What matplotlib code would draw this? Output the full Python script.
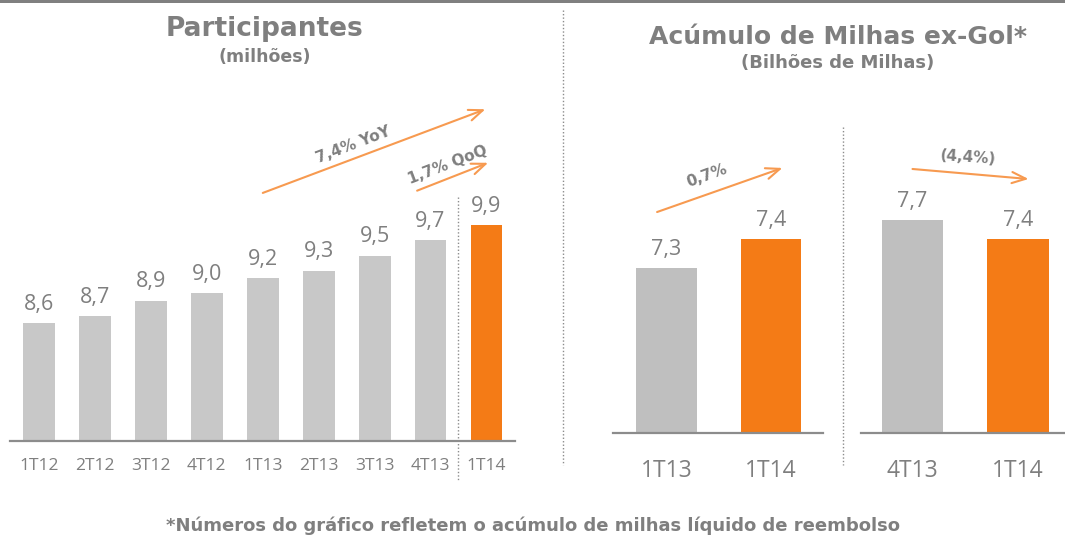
import matplotlib
matplotlib.use("Agg")
import matplotlib.pyplot as plt
from matplotlib.lines import Line2D
from matplotlib.patches import Rectangle

# data
part_labels = ["1T12", "2T12", "3T12", "4T12", "1T13", "2T13", "3T13", "4T13", "1T14"]
part_values = [8.6, 8.7, 8.9, 9.0, 9.2, 9.3, 9.5, 9.7, 9.9]

yoy_labels = ["1T13", "1T14"]
yoy_values = [7.3, 7.4]

qoq_labels = ["4T13", "1T14"]
qoq_values = [7.7, 7.4]

GRAY_TXT = "#7f7f7f"
ORANGE = "#f47b16"
ARROW = "#f79a50"
NUM_FONT = "Open Sans"

W, H = 1065, 537
fig = plt.figure(figsize=(W / 100, H / 100), dpi=100)


def px_axes(left, top, right, bottom):
    return fig.add_axes([left / W, 1 - bottom / H, (right - left) / W, (bottom - top) / H])


def fmt(v):
    return f"{v:.1f}".replace(".", ",")


def style_axes(ax, tick_size, pad):
    for s in ["top", "right", "left"]:
        ax.spines[s].set_visible(False)
    ax.spines["bottom"].set_color("#8c8c8c")
    ax.spines["bottom"].set_linewidth(1.6)
    ax.set_yticks([])
    ax.tick_params(axis="x", length=0, pad=pad, labelsize=tick_size, labelcolor=GRAY_TXT)
    for t in ax.get_xticklabels():
        t.set_fontfamily(NUM_FONT)


def draw_bars(ax, labels, values, gray, width, tick_size, pad, val_size):
    colors = [gray] * (len(values) - 1) + [ORANGE]
    bars = ax.bar(range(len(values)), values, width=width, color=colors)
    ax.set_xticks(range(len(values)))
    ax.set_xticklabels(labels)
    style_axes(ax, tick_size, pad)
    ax.bar_label(bars, labels=[fmt(v) for v in values], padding=6,
                 fontsize=val_size, color=GRAY_TXT, fontfamily=NUM_FONT)


def arrow(ax, start, end, text, text_xy, rot):
    ax.annotate("", xy=end, xytext=start,
                arrowprops=dict(arrowstyle="->,head_length=1.0,head_width=0.4",
                                color=ARROW, lw=1.5, shrinkA=0, shrinkB=0))
    ax.text(text_xy[0], text_xy[1], text, rotation=rot, ha="center", va="center",
            fontsize=11, fontweight="bold", color=GRAY_TXT, rotation_mode="anchor")


# left chart
ax1 = px_axes(10, 100, 515, 441)
ax1.set_xlim(-0.52, 8.51)
ax1.set_ylim(7.04, 7.04 + 341 / 75.4)
draw_bars(ax1, part_labels, part_values, "#c8c8c8", 0.57, 12.5, 12, 15.5)
arrow(ax1, (4.0, 10.33), (7.98, 11.44), "7,4% YoY", (5.62, 10.97), 21)
arrow(ax1, (6.76, 10.36), (8.03, 10.73), "1,7% QoQ", (7.3, 10.70), 21)

# right charts
ax2 = px_axes(613, 100, 823, 433)
ax2.set_xlim(-0.512, 1.498)
ax2.set_ylim(6.732, 6.732 + 333 / 290)
draw_bars(ax2, yoy_labels, yoy_values, "#bfbfbf", 0.58, 16.5, 19, 15.5)
arrow(ax2, (-0.09, 7.494), (1.11, 7.646), "0,7%", (0.39, 7.62), 20)

ax3 = px_axes(861, 100, 1065, 433)
ax3.set_xlim(-0.488, 1.445)
ax3.set_ylim(4.39, 4.39 + 333 / 64.3)
draw_bars(ax3, qoq_labels, qoq_values, "#bfbfbf", 0.58, 16.5, 19, 15.5)
arrow(ax3, (0.0, 8.496), (1.10, 8.34), "(4,4%)", (0.53, 8.68), -4)

# separators and top band
fig.add_artist(Rectangle((0, 1 - 3 / H), 1, 3 / H, transform=fig.transFigure,
                         color="#808080", lw=0))
for x, y0, y1 in [(563, 10, 465), (843, 127, 465), (458, 197, 480)]:
    fig.add_artist(Line2D([x / W, x / W], [1 - y0 / H, 1 - y1 / H], transform=fig.transFigure,
                          color="#8c8c8c", lw=1, linestyle=(0, (1, 1.5))))

# titles
fig.text(265 / W, 1 - 29 / H, "Participantes", ha="center", va="center",
         fontsize=19, fontweight="bold", color=GRAY_TXT)
fig.text(265 / W, 1 - 57 / H, "(milhões)", ha="center", va="center",
         fontsize=12.5, fontweight="bold", color=GRAY_TXT)
fig.text(838 / W, 1 - 37 / H, "Acúmulo de Milhas ex-Gol*", ha="center", va="center",
         fontsize=18, fontweight="bold", color=GRAY_TXT)
fig.text(838 / W, 1 - 63 / H, "(Bilhões de Milhas)", ha="center", va="center",
         fontsize=13, fontweight="bold", color=GRAY_TXT)
fig.text(533 / W, 1 - 526 / H,
         "*Números do gráfico refletem o acúmulo de milhas líquido de reembolso",
         ha="center", va="center", fontsize=13, fontweight="bold", color=GRAY_TXT)

fig.savefig("out.png", dpi=100)
